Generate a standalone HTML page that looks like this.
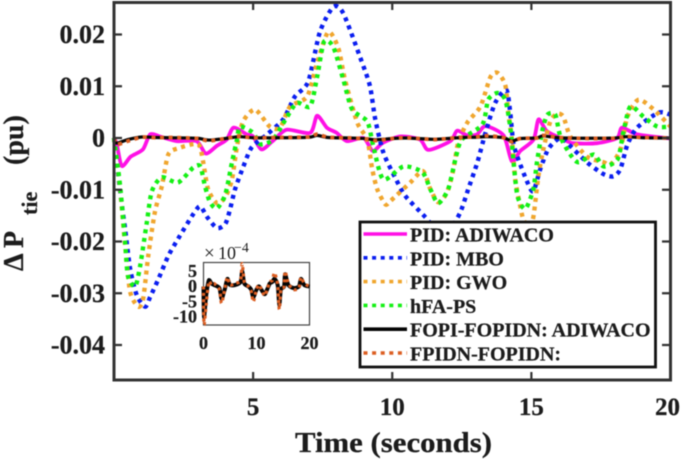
<!DOCTYPE html>
<html>
<head>
<meta charset="utf-8">
<style>
html,body{margin:0;padding:0;background:#fff;width:685px;height:459px;overflow:hidden}
svg{display:block;filter:blur(.5px)}
text{font-family:"Liberation Serif",serif;font-weight:bold;fill:#1c1c1c;stroke:#1c1c1c;stroke-width:.25px}
</style>
</head>
<body>
<svg id="chart" width="685" height="459" viewBox="0 0 685 459" xmlns="http://www.w3.org/2000/svg">
<rect x="0" y="0" width="685" height="459" fill="#fff"/>
<g id="series-layer"></g>
<g id="axes-layer"></g>
<g>
<text transform="translate(23,271) rotate(-90)" font-size="28">Δ P</text>
<text transform="translate(37,215) rotate(-90)" font-size="22">tie</text>
<text transform="translate(23,165) rotate(-90)" font-size="28">(pu)</text>
</g>
<text x="295" y="452" font-size="29" textLength="197" lengthAdjust="spacingAndGlyphs">Time (seconds)</text>
<g id="inset-layer"></g>
<g>
<text x="204" y="259" font-size="19" style="font-weight:normal;stroke:none">×</text>
<text x="218" y="259" font-size="18" style="font-weight:normal;stroke:none">10</text>
<text x="234" y="252" font-size="14" style="font-weight:normal;stroke:none">−4</text>
</g>
<g id="legend">
<rect x="360" y="222" width="295.5" height="145" fill="#fff" stroke="#111" stroke-width="2.8"/>
</g>
</svg>
<script>
// Main-plot series (time in s, deviation in pu)
const pidAdiwacoTimes = [0,.1,.28,.6,1.04,1.3,1.7,2.25,2.97,3.3,3.7,4.05,4.3,4.77,5,5.3,5.7,6.2,7.05,7.3,7.65,8,8.37,8.97,9.3,9.67,10.3,11,11.3,12.09,12.33,12.7,13.05,13.35,14,14.3,14.6,15.08,15.26,15.56,16.16,16.5,17.36,18.08,18.26,18.8,20];
const pidAdiwacoValues = [0,-.0012,-.0054,-.0036,-.0022,.0007,.0002,-.0006,-.0006,-.003,-.0015,-.0003,.002,.0007,.0003,-.0022,-.0006,.0016,.001,.0043,.002,.001,-.0006,0,-.0025,-.0009,.0003,-.0003,-.0023,-.0006,.0014,.0005,.0007,.0023,.0005,-.0045,-.0025,-.0003,.0036,.0013,-.0003,-.001,-.001,0,.002,.0007,-.0001];
const pidMboTimes = [0,.24,.4,.58,.82,1.12,1.3,1.6,1.95,2.3,2.85,3.1,3.35,3.7,4,4.17,4.35,4.65,4.95,5.5,6.08,6.5,6.98,7.4,7.88,8.24,8.9,9.2,9.39,9.68,10.1,10.47,11.19,11.7,12.1,12.45,12.73,13.06,13.35,13.7,14.1,14.24,14.35,14.53,14.86,15.07,15.32,15.6,15.93,16.15,17,17.6,17.95,18.2,18.45,18.8,19.57,20];
const pidMboValues = [0,-.0112,-.0176,-.0253,-.0304,-.0326,-.0307,-.0272,-.0228,-.0195,-.0147,-.0132,-.0153,-.0174,-.0166,-.0138,-.0099,-.0055,-.0018,.0007,.0036,.008,.0109,.0205,.0253,.0241,.0148,.01,.0036,-.0028,-.0076,-.0112,-.0153,-.0185,-.0175,-.0143,-.0099,-.0047,.001,.0068,.0093,.0049,-.0009,-.0041,-.0086,-.0103,-.006,-.0022,-.0003,-.0003,-.0047,-.007,-.0074,-.006,-.0013,.002,.0049,.0045];
const pidGwoTimes = [0,.22,.4,.58,.87,1.05,1.23,1.47,1.72,1.95,2.3,3.02,3.2,3.38,3.7,4,4.24,4.42,4.64,5.07,5.6,5.97,6.33,6.94,7.3,7.7,8.06,8.3,8.74,9.1,9.28,9.46,9.75,9.93,10.65,11.1,11.37,11.65,11.97,12.2,12.37,12.7,13.17,13.53,13.78,14.06,14.17,14.3,14.42,14.6,14.71,14.9,15.07,15.25,15.43,15.68,15.93,16.15,16.4,17,17.6,17.85,18.2,18.45,18.85,19.4,20];
const pidGwoValues = [0,-.0099,-.0208,-.0297,-.0326,-.031,-.0228,-.0143,-.0093,-.0032,-.002,-.0012,-.0045,-.0099,-.0126,-.0114,-.008,-.0016,.0032,.0055,.0022,.002,.0061,.008,.0145,.0205,.0174,.0113,.003,-.0003,-.006,-.0099,-.0128,-.0122,-.0086,-.0064,-.0099,-.0124,-.0105,-.006,-.0009,.003,.0061,.0118,.0126,.0103,.0049,-.0003,-.008,-.0132,-.0157,-.0172,-.0153,-.0074,-.0022,.0032,.0047,.0041,.0003,-.0036,-.0047,-.0051,-.0022,.0041,.0074,.0055,.0022];
const hfaPsTimes = [0,.22,.4,.5,.76,.94,1.18,1.36,1.72,2.3,2.85,3.1,3.27,3.45,3.7,4,4.24,4.42,4.53,5,5.25,5.72,6.22,6.58,7.05,7.3,7.55,7.88,8.24,8.56,9.1,9.32,9.68,10.4,11.08,11.37,11.65,12.01,12.27,12.5,13.24,13.45,13.78,14.06,14.24,14.35,14.5,14.78,15.07,15.2,15.4,15.58,15.86,16.04,16.4,16.7,17.24,17.6,18.1,18.3,18.56,19.03,19.53,20];
const hfaPsValues = [0,-.0093,-.0201,-.0266,-.0287,-.0247,-.0163,-.0103,-.0076,-.0086,-.0057,-.0055,-.0093,-.0124,-.0136,-.0109,-.0047,-.0003,.0022,.001,-.0012,-.0003,.0041,.0068,.0061,.0118,.0186,.0176,.0113,.0055,.0032,-.0016,-.008,-.0055,-.0066,-.0099,-.0126,-.0099,-.0041,-.0003,.0026,.0074,.0087,.0074,.0022,-.0041,-.0112,-.0137,-.0099,-.0047,.0016,.0045,.0045,.0003,-.0032,-.0047,-.0032,-.0055,-.0041,.001,.0061,.0041,.0022,.0022];
// Zoomed series (also plotted in the main axes), units of 1e-4 pu
const fopiTimes = [0,.1,.5,1,1.5,2,3,3.4,4,4.5,5,6,7,7.3,7.7,8.5,9,9.4,10,10.5,11.5,12,12.5,13,13.4,14,14.3,14.6,15.2,15.4,16,17,18,18.4,19,20];
const fopiValues = [0,-10,-3,2,1,.5,-.5,-4,-1,2.5,.5,.5,1.5,5,1,0,-1,-3.5,-1,0,-2.5,-1,1,1.5,2.5,.5,-6,-1,0,4,.5,-.5,0,2.5,.5,0];
const fpidnTimes = [0,.1,.5,1,1.5,2,3,3.4,4,4.5,5,6,7,7.3,7.7,8.5,9,9.4,10,10.5,11.5,12,12.5,13,13.4,14,14.3,14.6,15.2,15.4,16,17,18,18.4,19,20];
const fpidnValues = [0,-12.5,-6,1.5,.5,1,-1,-5.5,-1,3,.5,1,2,7.5,1.5,0,-1.5,-5,-1,.5,-3,-1,1.5,2,4.5,.5,-7.5,-1,0,5,1,-1,-.5,3,1,0];
// Axis labels
const xTickValues = [5,10,15,20];
const yTickValues = [.02,.01,0,-.01,-.02,-.03,-.04];
const yTickLabels = ["0.02","0.01","0","-0.01","-0.02","-0.03","-0.04"];
const insetXTicks = [0,10,20];
const insetYTicks = [5,0,-5,-10];
const legendLabels = ["PID: ADIWACO","PID: MBO","PID: GWO","hFA-PS","FOPI-FOPIDN: ADIWACO","FPIDN-FOPIDN:"];

const NS = "http://www.w3.org/2000/svg";
function mk(tag, attrs, parent){
  const el = document.createElementNS(NS, tag);
  for (const k in attrs) el.setAttribute(k, attrs[k]);
  parent.appendChild(el);
  return el;
}
const mainX = t => 114 + t * (670.5 - 114) / 20;
const mainY = v => 138 - v * 5175;
const insetX = t => 203.5 + t * (309.5 - 203.5) / 20;
const insetY = v => 286.5 - v * 3.05;

function smooth(ts, vs, fx, fy){
  const p = ts.map((t, i) => [fx(t), fy(vs[i])]);
  let d = "M" + p[0][0].toFixed(2) + " " + p[0][1].toFixed(2);
  for (let i = 0; i < p.length - 1; i++){
    const a = p[Math.max(i - 1, 0)], b = p[i], c = p[i + 1], e = p[Math.min(i + 2, p.length - 1)];
    const c1x = b[0] + (c[0] - a[0]) / 8, c1y = b[1] + (c[1] - a[1]) / 8;
    const c2x = c[0] - (e[0] - b[0]) / 8, c2y = c[1] - (e[1] - b[1]) / 8;
    d += "C" + c1x.toFixed(2) + " " + c1y.toFixed(2) + " " + c2x.toFixed(2) + " " + c2y.toFixed(2) + " " + c[0].toFixed(2) + " " + c[1].toFixed(2);
  }
  return d;
}

const seriesLayer = document.getElementById("series-layer");
const axesLayer = document.getElementById("axes-layer");
const insetLayer = document.getElementById("inset-layer");
const legend = document.getElementById("legend");
const DOT = "4 4.6";

function lineStyle(color, width, dash){
  const s = {fill:"none", stroke:color, "stroke-width":width};
  if (dash) s["stroke-dasharray"] = dash;
  return s;
}
const magenta = "#ff10e6", blue = "#0a1ef0", amber = "#f0a62e", green = "#14f014", black = "#050505", rust = "#dc5e22";

const p1 = mk("path", Object.assign({d:smooth(pidAdiwacoTimes, pidAdiwacoValues, mainX, mainY)}, lineStyle(magenta, 3.8)), seriesLayer);


const p2 = mk("path", Object.assign({d:smooth(pidMboTimes, pidMboValues, mainX, mainY)}, lineStyle(blue, 4.4, DOT)), seriesLayer);


const p3 = mk("path", Object.assign({d:smooth(pidGwoTimes, pidGwoValues, mainX, mainY)}, lineStyle(amber, 4.4, DOT)), seriesLayer);


const p4 = mk("path", Object.assign({d:smooth(hfaPsTimes, hfaPsValues, mainX, mainY)}, lineStyle(green, 4.4, DOT)), seriesLayer);


const mainScaleY = v => mainY(v * 1e-4);
const p5 = mk("path", Object.assign({d:smooth(fopiTimes, fopiValues, mainX, mainScaleY)}, lineStyle(black, 3.2)), seriesLayer);


const p6 = mk("path", Object.assign({d:smooth(fpidnTimes, fpidnValues, mainX, mainScaleY)}, lineStyle(rust, 3.8, DOT)), seriesLayer);



// main axes
const frame = mk("rect", {x:114, y:2.5, width:556.5, height:377.5, fill:"none", stroke:"#333", "stroke-width":3}, axesLayer);


xTickValues.forEach(t => {
  const x = mainX(t);
  const tick = mk("path", {d:"M"+x+" 380V372M"+x+" 2.5V10", stroke:"#333", "stroke-width":2.2, fill:"none"}, axesLayer);
  
  
  const anchorX = t === 20 ? x - 3 : x;
  const lab = mk("text", {x:anchorX, y:415, "font-size":25, "text-anchor":"middle"}, axesLayer);
  lab.textContent = t;
  
  
});
yTickValues.forEach((v, i) => {
  const y = mainY(v);
  const tick = mk("path", {d:"M114 "+y+"H122M670.5 "+y+"H662", stroke:"#333", "stroke-width":2.2, fill:"none"}, axesLayer);
  
  
  const lab = mk("text", {x:105, y:y + 8.5, "font-size":26, "text-anchor":"end"}, axesLayer);
  lab.textContent = yTickLabels[i];
  
  
});

// inset
const insetBg = mk("rect", {x:203.5, y:262.5, width:106, height:62.5, fill:"#fff", stroke:"#444", "stroke-width":1.2}, insetLayer);


const i1 = mk("path", Object.assign({d:smooth(fopiTimes, fopiValues, insetX, insetY)}, lineStyle(black, 4)), insetLayer);


const i2 = mk("path", Object.assign({d:smooth(fpidnTimes, fpidnValues, insetX, insetY)}, lineStyle(rust, 3.2, "3 3.4")), insetLayer);


insetXTicks.forEach(t => {
  const lab = mk("text", {x:insetX(t), y:349, "font-size":18, "text-anchor":"middle"}, insetLayer);
  lab.textContent = t;
  
  
});
insetYTicks.forEach(v => {
  const lab = mk("text", {x:197, y:insetY(v) + 5.5, "font-size":18, "text-anchor":"end"}, insetLayer);
  lab.textContent = v;
  
  
});

// legend
const legendColors = [magenta, blue, amber, green, black, rust];
const legendDashes = [null, DOT, DOT, DOT, null, DOT];
legendLabels.forEach((name, i) => {
  const y = 235 + i * 23.8;
  const sample = mk("line", Object.assign({x1:363.5, x2:407, y1:y - 1, y2:y - 1}, lineStyle(legendColors[i], 3.6, legendDashes[i])), legend);
  
  
  const lab = mk("text", {x:410, y:y + 6.5, "font-size":20}, legend);
  lab.textContent = name;
  
  
});
</script>
</body>
</html>
